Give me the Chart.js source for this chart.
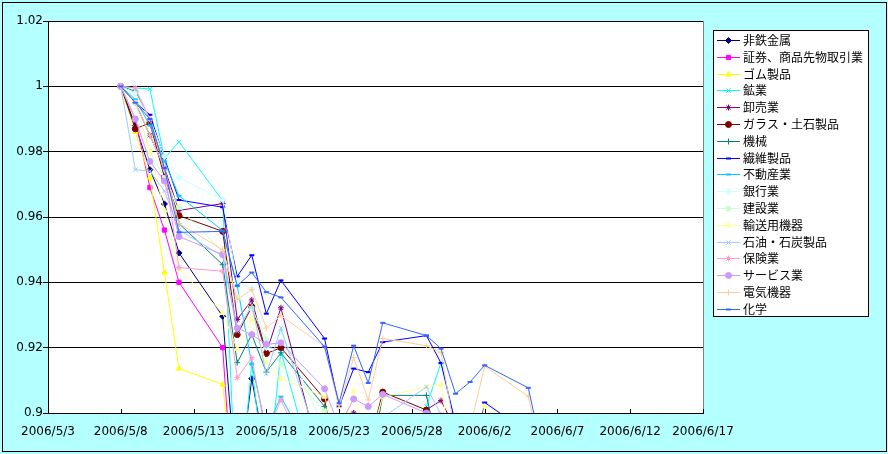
<!DOCTYPE html>
<html><head><meta charset="utf-8">
<script src="https://cdn.jsdelivr.net/npm/chart.js@4.4.1/dist/chart.umd.min.js"></script>
<style>html,body{margin:0;padding:0;background:#b4ffff;}canvas{display:block}</style>
</head><body>
<canvas id="c" width="888" height="454"></canvas>
<script>
// ---- data ----
const baseDate = '2006/5/3';
const dates = ['2006/5/8','2006/5/9','2006/5/10','2006/5/11','2006/5/12',
  '2006/5/15','2006/5/16','2006/5/17','2006/5/18','2006/5/19',
  '2006/5/22','2006/5/23','2006/5/24','2006/5/25','2006/5/26',
  '2006/5/29','2006/5/30','2006/5/31','2006/6/1','2006/6/2',
  '2006/6/5','2006/6/6'];
const xTickLabels = ['2006/5/3','2006/5/8','2006/5/13','2006/5/18','2006/5/23','2006/5/28','2006/6/2','2006/6/7','2006/6/12','2006/6/17'];
const yTickValues = [0.9,0.92,0.94,0.96,0.98,1,1.02];
const seriesNames = ['非鉄金属','証券、商品先物取引業','ゴム製品','鉱業','卸売業','ガラス・土石製品','機械','繊維製品','不動産業','銀行業','建設業','輸送用機器','石油・石炭製品','保険業','サービス業','電気機器','化学'];

const hitetsu   = [1,0.988,0.9745,0.964,0.949,0.9296,0.875,0.9105,0.886,0.884,0.872,0.865,0.87,0.862,0.868,0.864,0.858,0.85,0.852,0.855,0.85,0.845];
const shoken    = [1,0.990,0.969,0.956,0.940,0.920,0.855,0.85,0.845,0.85,0.84,0.835,0.84,0.835,0.84,0.835,0.83,0.825,0.825,0.83,0.825,0.82];
const gomu      = [1,0.986,0.972,0.943,0.9136,0.9087,0.869,0.865,0.86,0.862,0.855,0.85,0.855,0.85,0.855,0.85,0.845,0.84,0.84,0.845,0.84,0.835];
const kogyo     = [1,0.9995,0.9992,0.978,0.983,0.965,0.867,0.915,0.875,0.919,0.87,0.86,0.865,0.87,0.87,0.902,0.9154,0.897,0.865,0.87,0.86,0.855];
const oroshi    = [1,0.995,0.985,0.975,0.962,0.9641,0.9286,0.9346,0.9184,0.9322,0.881,0.885,0.900,0.885,0.885,0.901,0.9038,0.895,0.87,0.875,0.865,0.86];
const glass     = [1,0.987,0.9888,0.9722,0.9604,0.9556,0.924,0.9325,0.9182,0.920,0.9043,0.88,0.875,0.889,0.9064,0.9009,0.885,0.87,0.865,0.87,0.86,0.855];
const kikai     = [1,0.9985,0.99,0.975,0.958,0.9454,0.9154,0.924,0.9125,0.9184,0.902,0.88,0.875,0.8815,0.9054,0.9054,0.885,0.87,0.865,0.87,0.86,0.855];
const seni      = [1,0.995,0.9913,0.978,0.9652,0.963,0.9418,0.9483,0.9304,0.9406,0.9228,0.902,0.9136,0.9125,0.9217,0.9237,0.9153,0.8966,0.88,0.9032,0.894,0.885];
const fudosan   = [1,0.996,0.988,0.977,0.9665,0.9558,0.9388,0.915,0.895,0.905,0.88,0.875,0.875,0.87,0.875,0.88,0.875,0.865,0.86,0.865,0.86,0.855];
const ginko     = [1,0.998,0.99,0.9785,0.972,0.9653,0.94,0.938,0.92,0.925,0.895,0.88,0.885,0.88,0.885,0.89,0.885,0.87,0.865,0.87,0.86,0.855];
const kensetsu  = [1,0.995,0.98,0.972,0.963,0.9492,0.9357,0.932,0.9225,0.9148,0.9006,0.88,0.875,0.88,0.885,0.89,0.88,0.87,0.865,0.87,0.86,0.855];
const yuso      = [1,0.99,0.98,0.962,0.944,0.9306,0.9196,0.9286,0.9154,0.9105,0.905,0.89,0.9067,0.89,0.905,0.908,0.9087,0.88,0.88,0.902,0.88,0.87];
const sekiyu    = [1,0.9745,0.974,0.968,0.956,0.948,0.925,0.933,0.912,0.926,0.885,0.88,0.88,0.885,0.8986,0.908,0.8995,0.88,0.875,0.88,0.87,0.865];
const hoken     = [1,0.9995,0.99,0.975,0.9445,0.9434,0.9108,0.9169,0.893,0.904,0.875,0.87,0.875,0.88,0.885,0.8995,0.8995,0.88,0.875,0.88,0.87,0.865];
const service   = [1,0.99,0.977,0.971,0.954,0.9485,0.926,0.924,0.921,0.9215,0.9074,0.8958,0.9043,0.902,0.9057,0.900,0.885,0.875,0.87,0.875,0.865,0.86];
const denki     = [1,0.995,0.985,0.975,0.958,0.950,0.9347,0.9378,0.926,0.9298,0.9203,0.9017,0.917,0.904,0.9228,0.9206,0.9185,0.893,0.8955,0.9143,0.9051,0.885];
const kagaku    = [1,0.995,0.99,0.975,0.9553,0.9556,0.939,0.943,0.937,0.9354,0.9203,0.903,0.9206,0.9092,0.9276,0.9237,0.9197,0.9059,0.9095,0.9146,0.9077,0.887];

const seriesValues = [hitetsu,shoken,gomu,kogyo,oroshi,glass,kikai,seni,fudosan,ginko,kensetsu,yuso,sekiyu,hoken,service,denki,kagaku];

// ---- styles ----
const seriesColors = ['#000080','#FF00FF','#FFFF00','#00FFFF','#800080','#800000','#008080','#0000FF','#00CCFF','#CCFFFF','#CCFFCC','#FFFF99','#99CCFF','#FF99CC','#CC99FF','#FFCC99','#3366FF'];
const seriesMarkers = ['rectRot','rect','triangle','crossRot','star','circle','cross','line','line','rectRot','rect','triangle','crossRot','star','circle','cross','line'];

function dayOffset(s){
  const p = s.split('/').map(Number), b = baseDate.split('/').map(Number);
  return Math.round((Date.UTC(p[0],p[1]-1,p[2]) - Date.UTC(b[0],b[1]-1,b[2]))/86400000);
}

const datasets = seriesNames.map((name,i)=>({
  label: name,
  data: dates.map((d,j)=>({x: dayOffset(d), y: seriesValues[i][j]})),
  borderColor: seriesColors[i],
  backgroundColor: seriesColors[i],
  pointBackgroundColor: seriesColors[i],
  pointBorderColor: seriesColors[i],
  pointStyle: seriesMarkers[i],
  pointRadius: seriesMarkers[i]==='line' ? 2.5 : 3,
  pointBorderWidth: seriesMarkers[i]==='line' ? 2 : 1,
  borderWidth: 1,
  tension: 0,
  order: seriesNames.length - i
}));

const bgPlugin = {
  id:'bg',
  beforeDraw(chart){
    const {ctx, chartArea:a} = chart;
    ctx.save();
    ctx.fillStyle = '#b4ffff';
    ctx.fillRect(0,0,chart.width,chart.height);
    ctx.strokeStyle = '#000';
    ctx.lineWidth = 1;
    ctx.strokeRect(2.5,2.5,chart.width-4,chart.height-5);
    ctx.fillStyle = '#fff';
    ctx.fillRect(a.left,a.top,a.right-a.left,a.bottom-a.top);
    ctx.restore();
  },
  afterDraw(chart){
    const {ctx, chartArea:a, scales} = chart;
    ctx.save();
    ctx.strokeStyle = '#808080';
    ctx.lineWidth = 1;
    ctx.beginPath();
    ctx.moveTo(Math.round(a.right)+0.5, a.top);
    ctx.lineTo(Math.round(a.right)+0.5, a.bottom);
    ctx.stroke();
    ctx.strokeStyle = '#000';
    scales.x.ticks.forEach(t=>{
      const x = Math.round(scales.x.getPixelForValue(t.value))+0.5;
      ctx.beginPath();
      ctx.moveTo(x, a.bottom);
      ctx.lineTo(x, a.bottom-4);
      ctx.stroke();
    });
    const lx = 713.5, ly = 30.5, lw = 155, lh = 286;
    ctx.fillStyle = '#fff';
    ctx.fillRect(lx,ly,lw,lh);
    ctx.strokeStyle = '#000';
    ctx.strokeRect(lx,ly,lw,lh);
    ctx.font = '12px "Noto Sans CJK JP"';
    ctx.textBaseline = 'middle';
    chart.data.datasets.forEach((ds,i)=>{
      const y = 40 + i*16.8;
      ctx.strokeStyle = ds.borderColor;
      ctx.lineWidth = 1;
      ctx.beginPath();
      ctx.moveTo(717, Math.round(y)+0.5);
      ctx.lineTo(740, Math.round(y)+0.5);
      ctx.stroke();
      ctx.fillStyle = ds.borderColor;
      ctx.lineWidth = ds.pointBorderWidth;
      if (Chart.helpers && Chart.helpers.drawPoint) {
        Chart.helpers.drawPoint(ctx, {pointStyle: ds.pointStyle, radius: ds.pointRadius, rotation: 0, borderWidth: ds.pointBorderWidth}, 728.5, Math.round(y)+0.5);
      }
      ctx.fillStyle = '#000';
      ctx.fillText(ds.label, 743, y+0.5);
    });
    ctx.restore();
  }
};

new Chart(document.getElementById('c'), {
  type: 'line',
  data: { datasets },
  plugins: [bgPlugin],
  options: {
    responsive: false,
    animation: false,
    devicePixelRatio: 1,
    layout: { padding: { top: 21, right: 185, bottom: 0, left: 0 } },
    plugins: { legend: { display: false }, tooltip: { enabled: false } },
    scales: {
      x: {
        type: 'linear', min: 0, max: 45,
        afterFit(s){ s.height = 41; },
        afterBuildTicks(s){ s.ticks = xTickLabels.map((l,i)=>({value: i*5})); },
        ticks: { autoSkip:false, maxRotation:0, padding: 12, color:'#000',
          font:{family:'DejaVu Sans', size:12},
          callback:(v)=> xTickLabels[Math.round(v/5)] },
        grid: { drawOnChartArea:false, drawTicks:false },
        border: { color:'#000', width:1 }
      },
      y: {
        min: 0.9, max: 1.02,
        afterFit(s){ s.width = 48; },
        afterBuildTicks(s){ s.ticks = yTickValues.map(v=>({value:v})); },
        ticks: { padding: 0, color:'#000', font:{family:'DejaVu Sans', size:12},
          callback:(v)=> String(+Number(v).toFixed(2)) },
        grid: { color:'#000', lineWidth:1, tickLength:5, drawTicks:true },
        border: { color:'#000', width:1 }
      }
    }
  }
});
</script>
</body></html>
